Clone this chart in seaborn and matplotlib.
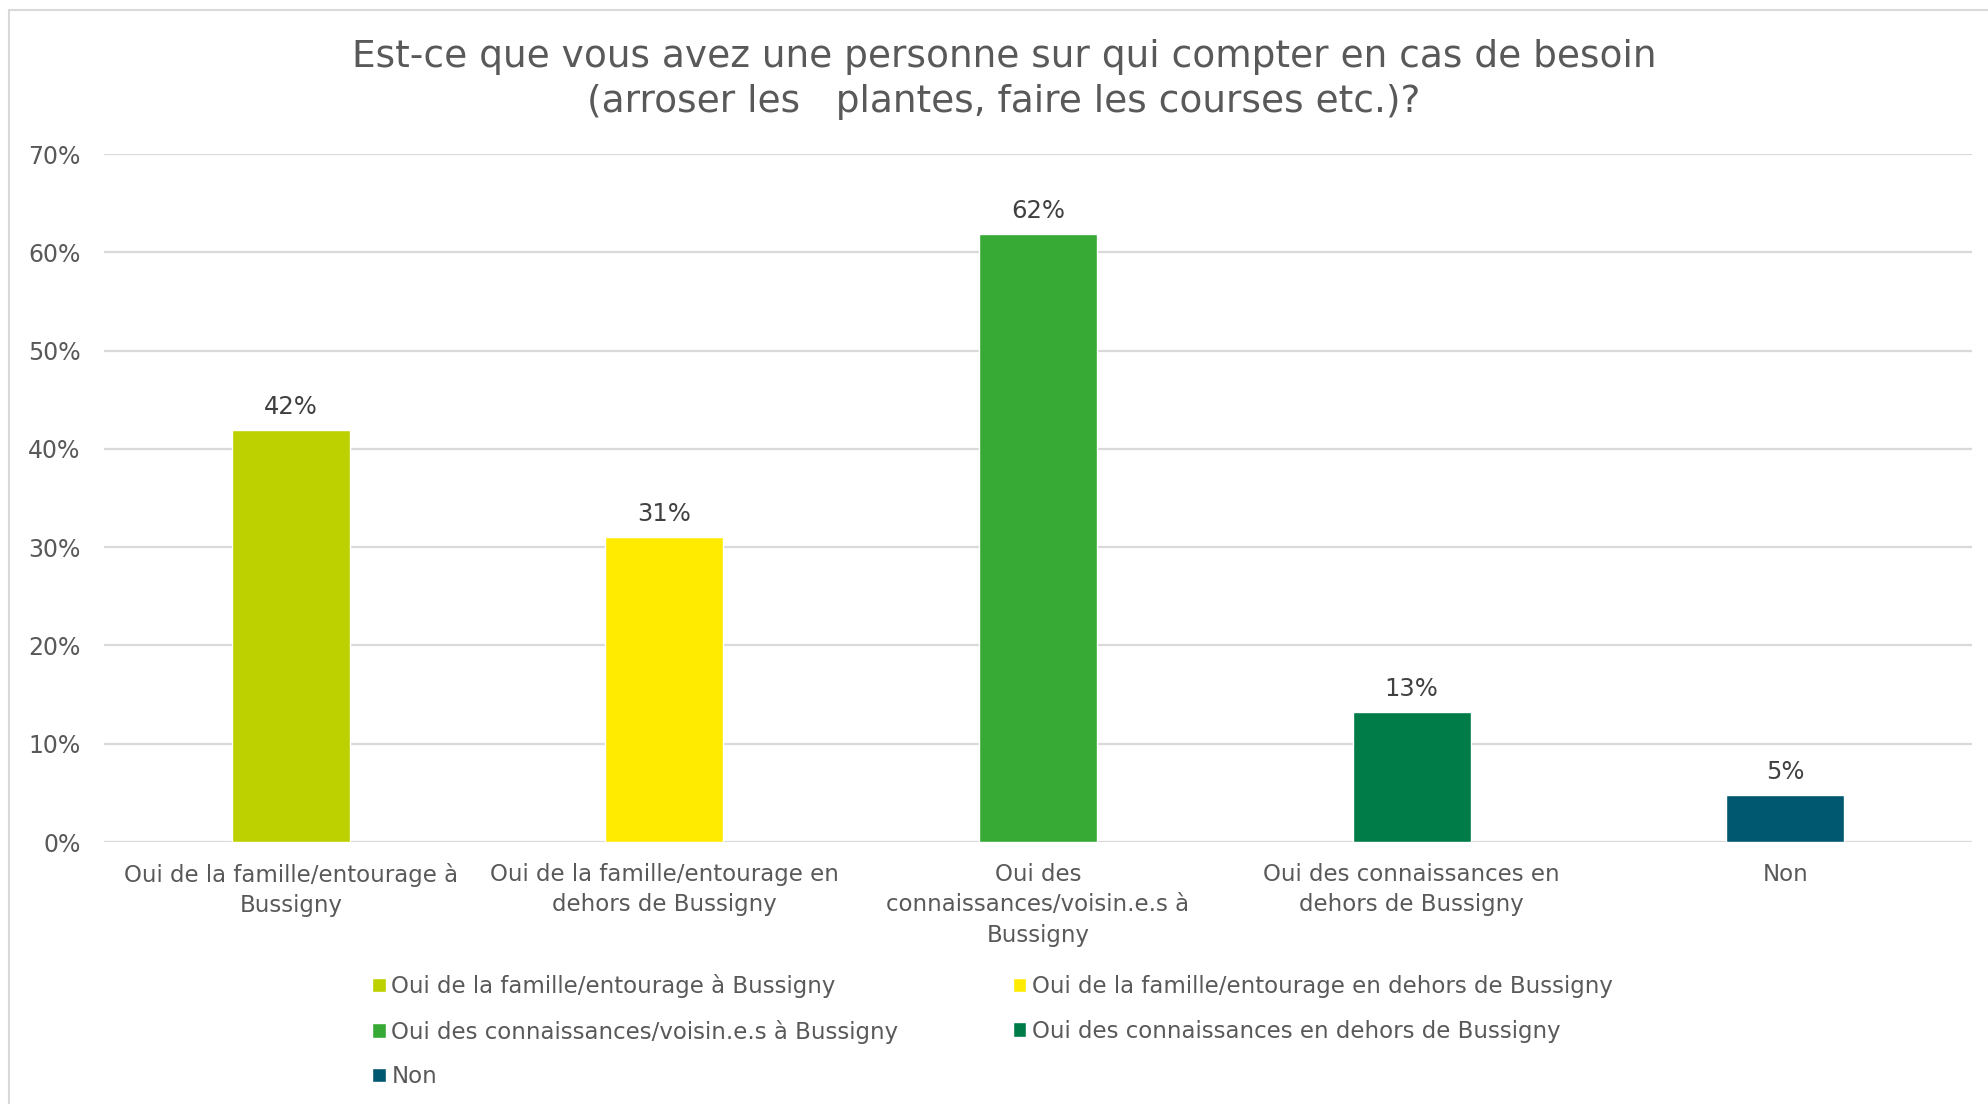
import matplotlib
matplotlib.use("Agg")
import matplotlib.pyplot as plt
import seaborn as sns
import pandas as pd
from matplotlib.lines import Line2D
from matplotlib.ticker import PercentFormatter

categories = [
    "Oui de la famille/entourage à Bussigny",
    "Oui de la famille/entourage en dehors de Bussigny",
    "Oui des connaissances/voisin.e.s à Bussigny",
    "Oui des connaissances en dehors de Bussigny",
    "Non",
]
tick_labels = [
    "Oui de la famille/entourage à\nBussigny",
    "Oui de la famille/entourage en\ndehors de Bussigny",
    "Oui des\nconnaissances/voisin.e.s à\nBussigny",
    "Oui des connaissances en\ndehors de Bussigny",
    "Non",
]
values = [0.419, 0.31, 0.619, 0.132, 0.048]
colors = ["#BDD000", "#FFEB00", "#37A935", "#007C49", "#005870"]
title_lines = ["Est-ce que vous avez une personne sur qui compter en cas de besoin",
               "(arroser les   plantes, faire les courses etc.)?"]

sns.set_theme(style="white")
plt.rcParams["font.family"] = ["DejaVu Sans"]

W, H = 1988, 1104
fig = plt.figure(figsize=(W / 100, H / 100), dpi=100)
ax = fig.add_axes([104 / W, 1 - 842 / H, (1972 - 104) / W, (842 - 154) / H])

df = pd.DataFrame({"cat": categories, "val": values})
sns.barplot(data=df, x="cat", y="val", hue="cat", palette=colors,
            width=0.316, saturation=1, ax=ax, legend=True, dodge=False)

ax.set_ylim(0, 0.7)
ax.set_xlim(-0.5, 4.5)
ax.set_yticks([i / 10 for i in range(8)])
ax.yaxis.set_major_formatter(PercentFormatter(1.0, decimals=0))
ax.grid(axis="y", color="#D9D9D9", linewidth=1.6)
ax.set_axisbelow(True)
for s in ax.spines.values():
    s.set_visible(False)
ax.set_xlabel("")
ax.set_ylabel("")
ax.set_xticks(range(len(categories)))
ax.set_xticklabels(tick_labels, fontsize=16.5, color="#595959", linespacing=1.42)
ax.tick_params(axis="x", length=0, pad=15)
ax.tick_params(axis="y", length=0, pad=17, labelsize=17, labelcolor="#595959")

for cont in ax.containers:
    ax.bar_label(cont, labels=[f"{v*100:.0f}%" for v in cont.datavalues],
                 padding=8, fontsize=17.5, color="#404040")

handles, labels = ax.get_legend_handles_labels()
ax.get_legend().remove()
order = [0, 2, 4, 1, 3]
handles = [handles[i] for i in order]
labels = [labels[i] for i in order]
fig.legend(handles, labels, ncol=2, loc="upper left",
           bbox_to_anchor=(372 / W, 1 - 974 / H), frameon=False,
           fontsize=16.5, labelcolor="#595959", handlelength=0.6,
           handleheight=0.6, handletextpad=0.25, columnspacing=4.97,
           labelspacing=0.94, borderpad=0, borderaxespad=0)

fig.text(1004 / W, 1 - 57 / H, title_lines[0],
         ha="center", va="center", fontsize=27, color="#595959")
fig.text(1004 / W, 1 - 101.5 / H, title_lines[1],
         ha="center", va="center", fontsize=27, color="#595959")

fig.add_artist(Line2D([9 / W, 9 / W], [0, 1 - 10 / H], transform=fig.transFigure,
                      color="#D9D9D9", linewidth=1.5))
fig.add_artist(Line2D([9 / W, 1], [1 - 10 / H, 1 - 10 / H], transform=fig.transFigure,
                      color="#D9D9D9", linewidth=1.5))

fig.savefig("out.png", dpi=100, facecolor="white")
